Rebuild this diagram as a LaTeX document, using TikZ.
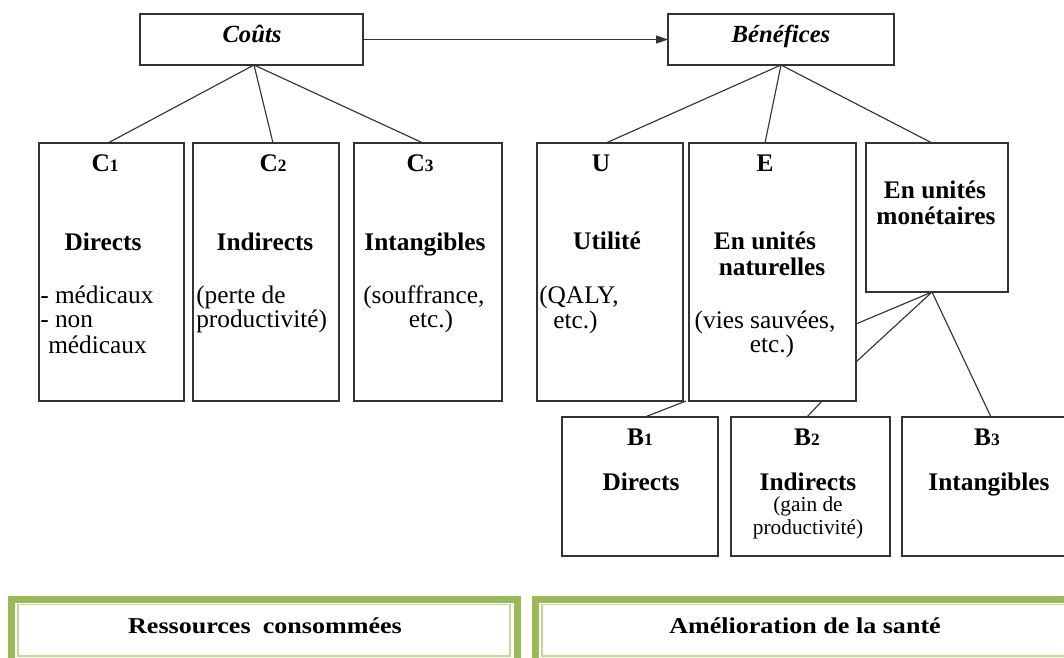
\documentclass[tikz,border=0pt]{standalone}
\usepackage{fontspec}
\setmainfont{Liberation Serif}
\newfontfamily\footserif{Liberation Serif}[FakeStretch=1.15]
\usetikzlibrary{fit,calc,arrows.meta}
\definecolor{bandgreen}{RGB}{155,187,89}
\definecolor{paleband}{RGB}{196,215,155}
\newcommand\lowdigit[1]{{\fontsize{13}{13}\selectfont #1}}
\begin{document}
\begin{tikzpicture}[x=0.75pt,y=-0.75pt,
  box/.style={draw=black!80, line width=1pt, inner sep=0pt, outer sep=0pt, fit={#1}},
  conn/.style={draw=black!80, line width=0.85pt},
  txt/.style={anchor=base, inner sep=0pt, font=\fontsize{19}{22}\selectfont},
  hd/.style={txt, font=\fontsize{19}{22}\selectfont\bfseries},
  ttl/.style={txt, font=\fontsize{18.5}{22}\selectfont\bfseries\itshape},
  small/.style={txt, font=\fontsize{16}{18}\selectfont},
  lft/.style={anchor=base west},
  band/.style={draw=bandgreen, line width=5.25pt, inner sep=0pt, fit={#1}},
  pale/.style={draw=paleband, line width=1pt, inner sep=0pt, fit={#1}},
  foot/.style={anchor=base, inner sep=0pt, font=\footserif\fontsize{17}{20}\selectfont\bfseries}]
\useasboundingbox (0,0) rectangle (1064,657);
\clip (0,0) rectangle (1064,657);

% top level
\node[box={(140,14) (363,65)}] (couts) {};
\node[box={(668,14) (894,65)}] (benef) {};
\node[ttl] (couts-t) at (252,42) {Coûts};
\node[ttl] (benef-t) at (781,42) {Bénéfices};
\draw[conn, -{Triangle[length=9pt,width=6pt]}] (couts) -- (benef);

% cost categories
\node[box={(39,143) (184,401)}] (c1) {};
\node[box={(193,143) (339,401)}] (c2) {};
\node[box={(354,143) (502,401)}] (c3) {};

\node[hd] (c1-a) at (105,171) {C\lowdigit{1}};
\node[hd] (c1-b) at (103,250) {Directs};
\node[txt,lft] (c1-c) at (40,303) {- médicaux};
\node[txt,lft] (c1-d) at (40,327) {- non};
\node[txt,lft] (c1-e) at (48,353) {médicaux};

\node[hd] (c2-a) at (273,171) {C\lowdigit{2}};
\node[hd] (c2-b) at (265,250) {Indirects};
\node[txt,lft] (c2-c) at (196,303) {(perte de};
\node[txt,lft] (c2-d) at (196,327) {productivité)};

\node[hd] (c3-a) at (420,171) {C\lowdigit{3}};
\node[hd] (c3-b) at (425,250) {Intangibles};
\node[txt,lft] (c3-c) at (363,303) {(souffrance,};
\node[txt] (c3-d) at (431,327) {etc.)};

\draw[conn] ($(couts.south)+(2.5,0)$) -- ($(c1.north west)+(69,0)$);
\draw[conn] ($(couts.south)+(2.5,0)$) -- ($(c2.north west)+(80,0)$);
\draw[conn] ($(couts.south)+(2.5,0)$) -- ($(c3.north west)+(69,0)$);

% benefit categories
\node[box={(537,143) (683,401)}] (u) {};
\node[box={(689,143) (856,401)}] (e) {};
\node[box={(866,143) (1008,292)}] (m) {};

\node[hd] (u-a) at (601,171) {U};
\node[hd] (u-b) at (607,249) {Utilité};
\node[txt,lft] (u-c) at (539,303) {(QALY,};
\node[txt,lft] (u-d) at (553,328) {etc.)};

\node[hd] (e-a) at (765,171) {E};
\node[hd] (e-b) at (765,249) {En unités};
\node[hd] (e-c) at (772,275) {naturelles};
\node[txt] (e-d) at (765,328) {(vies sauvées,};
\node[txt] (e-e) at (772,352) {etc.)};

\node[hd] (m-a) at (935,198) {En unités};
\node[hd] (m-b) at (936,224) {monétaires};

\draw[conn] (benef.south) -- ($(u.north west)+(69,0)$);
\draw[conn] (benef.south) -- ($(e.north west)+(76,0)$);
\draw[conn] (benef.south) -- ($(m.north west)+(66,0)$);

% monetary benefits
\node[box={(562,417) (718,556)}] (b1) {};
\node[box={(731,417) (890,556)}] (b2) {};
\node[box={(902,417) (1068,556)}] (b3) {};

\node[hd] (b1-a) at (640,445) {B\lowdigit{1}};
\node[hd] (b1-b) at (641,490) {Directs};
\node[hd] (b2-a) at (807,445) {B\lowdigit{2}};
\node[hd] (b2-b) at (808,490) {Indirects};
\node[small] (b2-c) at (808,511) {(gain de};
\node[small] (b2-d) at (808,534) {productivité)};
\node[hd] (b3-a) at (987,445) {B\lowdigit{3}};
\node[hd] (b3-b) at (989,490) {Intangibles};

\coordinate (ue) at ($(u.south east)!0.5!(e.south west)$);
\draw[conn] ($(m.south west)+(66,0)$) -- ($(e.north east)+(0,181)$);
\draw[conn] ($(m.south west)+(66,0)$) -- ($(e.north east)+(0,219)$);
\draw[conn] ($(m.south west)+(66,0)$) -- ($(b3.north west)+(89,0)$);
\draw[conn] ($(b1.north west)+(83,0)$) -- (ue);
\draw[conn] ($(b2.north west)+(76,0)$) -- ($(e.south west)+(133,0)$);

% footer panels
\node[band={(11.5,599.5) (517.5,700)}] (res-band) {};
\node[pale={(18,604.5) (510,656)}] (res) {};
\node[band={(535.5,599.5) (1100,700)}] (ame-band) {};
\node[pale={(542,604.5) (1090,656)}] (ame) {};
\node[foot] (res-t) at (265,633) {Ressources\hspace{0.25em} consommées};
\node[foot] (ame-t) at (805,633) {Amélioration de la santé};
\end{tikzpicture}
\end{document}
